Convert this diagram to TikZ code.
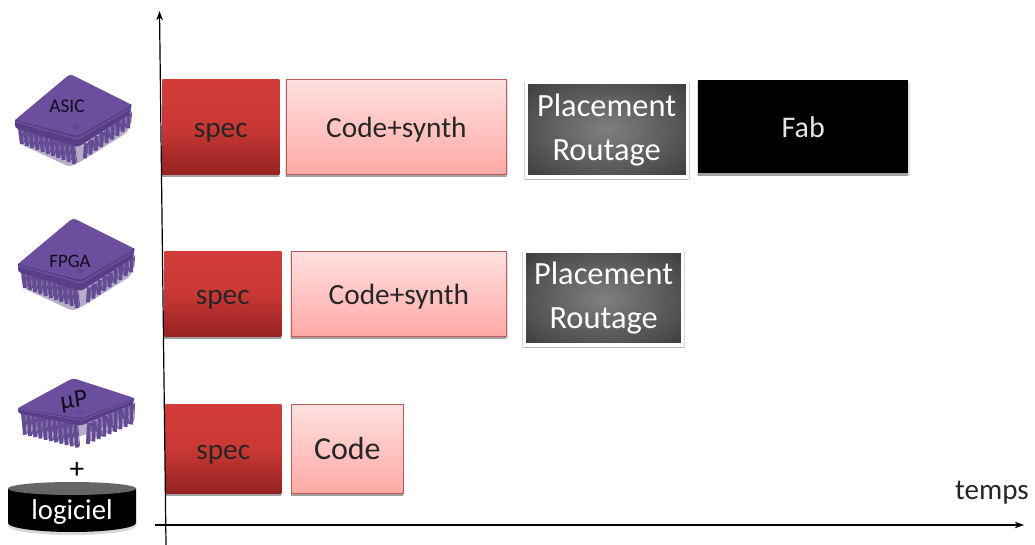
\documentclass[tikz,border=0pt]{standalone}
\usepackage{fontspec}
\setmainfont{Carlito}
\usetikzlibrary{shadows,arrows.meta,shapes.geometric,calc}
\definecolor{chipT}{HTML}{6C4E9E}
\definecolor{chipD}{HTML}{4A3278}
\definecolor{chipP}{HTML}{654A96}
\definecolor{redA}{HTML}{D23C38}
\definecolor{redB}{HTML}{962222}
\definecolor{pinkA}{HTML}{FFE0DF}
\definecolor{pinkB}{HTML}{FFA9A6}
\definecolor{pinkE}{HTML}{C05A58}
\pgfdeclareradialshading{softrad}{\pgfpointorigin}{
 color(0bp)=(black!50); color(30bp)=(black!72); color(50bp)=(black!88); color(100bp)=(black!92)}
\tikzset{
 x=0.75pt,y=-0.75pt,
 softshadow/.style={general shadow={fill=black,opacity=.12,shadow scale=1.012,shadow yshift=-1.6pt},drop shadow={shadow xshift=0pt,shadow yshift=-1.8pt,opacity=.28,fill=black}},
 boxbase/.style={inner sep=0pt,font=\fontsize{22}{26}\selectfont,align=center,anchor=north west,softshadow},
 oneline/.style={text height=20pt,text depth=4pt},
 specbox/.style={boxbase,oneline,top color=redA,bottom color=redB,middle color=redA!85!redB,text=black!85},
 codebox/.style={boxbase,oneline,top color=pinkA,bottom color=pinkB,draw=pinkE,line width=.5pt,text=black!85},
 placebox/.style={boxbase,general shadow={fill=black,opacity=.16,shadow scale=1.03,shadow yshift=-1pt},shading=softrad,draw=white,line width=2.4pt,text=white,font=\fontsize{24.3}{33}\selectfont},
 fabbox/.style={boxbase,oneline,fill=black,text=white!90!black},
 axisline/.style={line width=.9pt,black,-{Stealth[length=7pt,width=5pt]}},
 chiplabel/.style={inner sep=0pt,text=black!75!chipD},
 pinleft/.style={line width=2.9pt,chipP},
}
% #1 x shift, #2 y shift, #3 y scale, #4 pin length
\newcommand{\chipdraw}[4]{%
 \begin{scope}[shift={(#1,#2)},yscale=#3]
  \fill[chipD,opacity=.4,rounded corners=3] (17,126) -- (20,144) -- (70,167) -- (80,162) -- (128,132) -- (132,110) -- cycle;
  \foreach \t in {0.05,0.14,...,0.98} {
    \draw[pinleft] ($(17,124)!\t!(75,146)$) -- ++(2,#4);
    \draw[chipD,line width=.6pt,opacity=.8] ($(17,124)!\t+0.045!(75,146)$) -- ++(2,#4-3);
  }
  \foreach \t in {0.08,0.19,...,0.98} {
    \draw[pinleft] ($(82,146)!\t!(131,112)$) -- ++(-1,#4-4);
    \draw[chipD,line width=.6pt,opacity=.8] ($(82,146)!\t+0.055!(131,112)$) -- ++(-1,#4-7);
  }
  \fill[chipD!60!chipT,rounded corners=2] (15,118) -- (78,133) -- (132,103) -- (130,114) -- (78,147) -- (15,128) -- cycle;
  \fill[chipT,rounded corners=2.5] (70,74) -- (132,105) -- (78,136) -- (15,120) -- cycle;
  \draw[chipT!75!white,line width=.5pt,opacity=.6] (16,122) -- (78,139) -- (131,108);
  \fill[chipT!70!chipD] (76.5,127) circle[x radius=3.5,y radius=2.8];
 \end{scope}}
\begin{document}
\begin{tikzpicture}
\useasboundingbox (0,0) rectangle (1035,545);
\fill[white] (0,0) rectangle (1035,545);
% chips
\chipdraw{0}{0}{1}{19}
\node[chiplabel,font=\fontsize{14.5}{16}\selectfont] (asic) at (67,106) {ASIC};
\chipdraw{3}{144}{1}{19}
\node[chiplabel,font=\fontsize{14.2}{15}\selectfont] (fpga) at (70,261) {FPGA};
\chipdraw{3}{330}{.65}{36}
\node[chiplabel,font=\fontsize{19}{22}\selectfont,rotate=8] (up) at (74,402) {µP};
\node[font=\fontsize{22}{24}\selectfont,inner sep=0pt] (plus) at (77,470) {+};
% cylinder
\fill[black!25,opacity=.6] (8,492) -- (8,526) arc[start angle=180,end angle=0,x radius=64,y radius=9] -- (136,492) -- cycle;
\fill[black] (8,489) -- (8,523) arc[start angle=180,end angle=0,x radius=64,y radius=9] -- (136,489) -- cycle;
\fill[black!60] (72,488.5) ellipse[x radius=64,y radius=6.5];
\node[text=white,font=\fontsize{21.5}{24}\selectfont,inner sep=0pt] (logiciel) at (72,512) {logiciel};
% row 1
\node[specbox,minimum width=87.75pt,minimum height=71.25pt] (spec1) at (162,79) {spec};
\node[codebox,minimum width=165pt,minimum height=71.25pt] (code1) at (286,79) {Code+synth};
\node[placebox,minimum width=120.75pt,minimum height=71.25pt] (place1) at (524.5,80.5) {Placement\\Routage};
\node[fabbox,minimum width=157.5pt,minimum height=69.75pt,font=\fontsize{22.5}{26}\selectfont] (fab) at (698,80) {Fab};
% row 2
\node[specbox,minimum width=87.75pt,minimum height=63.75pt] (spec2) at (164,251) {spec};
\node[codebox,minimum width=161.25pt,minimum height=63.75pt] (code2) at (291,251) {Code+synth};
\node[placebox,minimum width=118.5pt,minimum height=70pt] (place2) at (523,250) {Placement\\Routage};
% row 3
\node[specbox,minimum width=87pt,minimum height=66.75pt] (spec3) at (165,404) {spec};
\node[codebox,minimum width=84pt,minimum height=66.75pt,font=\fontsize{24}{28}\selectfont] (code3) at (291,404) {Code};
% axes
\coordinate (yfoot) at (166,545);
\coordinate (ytip) at (159.5,11);
\coordinate (xfoot) at (155,525);
\coordinate (xtip) at (1024,525);
\draw[axisline] (yfoot) -- (ytip);
\draw[axisline] (xfoot) -- (xtip);
\node[font=\fontsize{21.8}{24}\selectfont,inner sep=0pt,text=black!85] (temps) at (992,493) {temps};
\end{tikzpicture}
\end{document}
